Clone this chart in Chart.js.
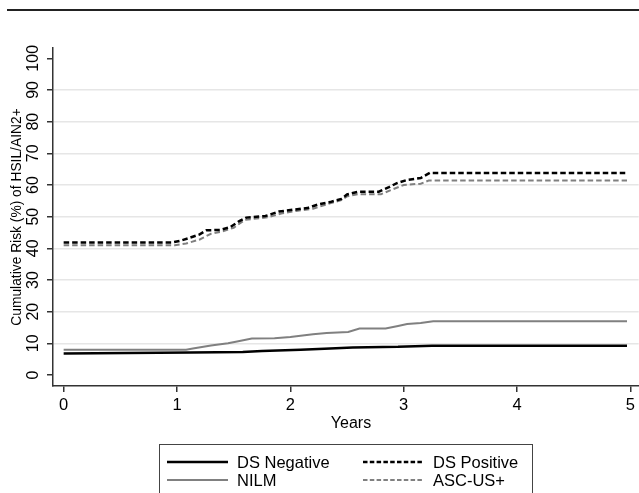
<!DOCTYPE html>
<html>
<head>
<meta charset="utf-8">
<script src="https://cdn.jsdelivr.net/npm/chart.js@4.4.1/dist/chart.umd.min.js"></script>
<style>
  html, body { margin: 0; padding: 0; background: #fff; }
  canvas { display: block; }
</style>
</head>
<body>
<canvas id="chartRisk" width="639" height="493"></canvas>
<script>
// Kaplan-Meier style cumulative risk curves

var xTicks = [0, 1, 2, 3, 4, 5];
var yTicks = [0, 10, 20, 30, 40, 50, 60, 70, 80, 90, 100];

var dsNegYears = [0, 1.12, 1.58, 1.75, 2.09, 2.3, 2.55, 2.95, 3.1, 3.25, 4.97];
var dsNegRisk  = [6.8, 7.1, 7.3, 7.6, 8.0, 8.3, 8.7, 8.9, 9.1, 9.2, 9.2];

var nilmYears = [0, 1.08, 1.14, 1.3, 1.45, 1.53, 1.66, 1.86, 2.0, 2.09, 2.2, 2.32, 2.51, 2.61, 2.84, 2.95, 3.03, 3.15, 3.26, 4.97];
var nilmRisk  = [8.0, 8.0, 8.4, 9.3, 10.0, 10.6, 11.5, 11.6, 12.0, 12.4, 12.9, 13.3, 13.6, 14.7, 14.7, 15.5, 16.1, 16.4, 17.0, 17.0];

var dsPosYears = [0, 0.95, 1.03, 1.11, 1.2, 1.26, 1.38, 1.47, 1.55, 1.61, 1.78, 1.9, 2.03, 2.15, 2.25, 2.35, 2.45, 2.5, 2.6, 2.78, 2.87, 2.94, 3.03, 3.15, 3.23, 4.97];
var dsPosRisk  = [41.8, 41.8, 42.4, 43.3, 44.4, 45.7, 45.8, 46.7, 48.6, 49.7, 50.2, 51.6, 52.2, 52.7, 53.9, 54.6, 55.6, 57.0, 57.9, 57.9, 59.3, 60.6, 61.6, 62.2, 63.8, 63.8];

var ascusYears = [0, 0.98, 1.08, 1.2, 1.3, 1.4, 1.5, 1.6, 1.8, 1.92, 2.05, 2.2, 2.35, 2.45, 2.5, 2.6, 2.8, 2.9, 3.0, 3.15, 3.22, 4.97];
var ascusRisk  = [41.0, 41.0, 41.5, 42.8, 44.6, 45.3, 46.5, 49.0, 49.8, 51.0, 51.8, 52.5, 54.2, 55.2, 56.4, 57.1, 57.1, 58.6, 60.0, 60.4, 61.4, 61.4];

// legend order: two columns, two rows
var legendOrder = [0, 2, 1, 3];

function toPoints(xs, ys) {
    return xs.map(function(x, i) { return { x: x, y: ys[i] }; });
}

var FONT = '"Liberation Sans", Arial, Helvetica, sans-serif';

var extrasPlugin = {
    id: 'extras',
    afterDraw: function(chart) {
        var ctx = chart.ctx;
        var yScale = chart.scales.y;
        ctx.save();

        // rule at the top of the figure
        ctx.strokeStyle = '#222';
        ctx.lineWidth = 2;
        ctx.beginPath();
        ctx.moveTo(7, 10);
        ctx.lineTo(639, 10);
        ctx.stroke();

        ctx.fillStyle = '#000';
        ctx.textAlign = 'center';
        ctx.textBaseline = 'middle';

        // rotated y tick labels
        ctx.font = '16px ' + FONT;
        yScale.ticks.forEach(function(t) {
            var py = yScale.getPixelForValue(t.value);
            ctx.save();
            ctx.translate(34, py);
            ctx.rotate(-Math.PI / 2);
            ctx.fillText(String(t.value), 0, 0);
            ctx.restore();
        });

        // y title
        ctx.font = '13.8px ' + FONT;
        ctx.save();
        ctx.translate(17, 217);
        ctx.rotate(-Math.PI / 2);
        ctx.fillText('Cumulative Risk (%) of HSIL/AIN2+', 0, 0);
        ctx.restore();

        // x title
        ctx.font = '16px ' + FONT;
        ctx.fillText('Years', 351, 424);

        // legend box
        ctx.strokeStyle = '#444';
        ctx.lineWidth = 1;
        ctx.strokeRect(159.5, 444.5, 373, 60);

        var ds = chart.data.datasets;
        var cols = [167, 363];
        var rows = [462, 480];
        ctx.font = '16.5px ' + FONT;
        ctx.textAlign = 'left';
        legendOrder.forEach(function(idx, k) {
            var d = ds[idx];
            var lx = cols[k % 2];
            var ly = rows[Math.floor(k / 2)];
            ctx.strokeStyle = d.borderColor;
            ctx.lineWidth = d.borderWidth;
            ctx.setLineDash(d.borderDash.length ? [4.5, 2.3] : []);
            ctx.beginPath();
            ctx.moveTo(lx, ly);
            ctx.lineTo(lx + 61, ly);
            ctx.stroke();
            ctx.setLineDash([]);
            ctx.fillText(d.label, lx + 70, ly + 1);
        });

        ctx.restore();
    }
};

new Chart(document.getElementById('chartRisk'), {
    type: 'line',
    data: {
        datasets: [
            {
                label: 'DS Negative',
                data: toPoints(dsNegYears, dsNegRisk),
                borderColor: '#000',
                borderWidth: 2.5,
                borderDash: [],
            },
            {
                label: 'NILM',
                data: toPoints(nilmYears, nilmRisk),
                borderColor: '#808080',
                borderWidth: 2,
                borderDash: [],
            },
            {
                label: 'DS Positive',
                data: toPoints(dsPosYears, dsPosRisk),
                borderColor: '#000',
                borderWidth: 2.5,
                borderDash: [5.5, 3],
            },
            {
                label: 'ASC-US+',
                data: toPoints(ascusYears, ascusRisk),
                borderColor: '#808080',
                borderWidth: 2,
                borderDash: [5.5, 3],
            },
        ],
    },
    options: {
        responsive: false,
        animation: false,
        devicePixelRatio: 1,
        layout: { padding: { top: 48, left: 0, right: 0, bottom: 0 } },
        elements: { point: { radius: 0 }, line: { tension: 0 } },
        plugins: { legend: { display: false }, tooltip: { enabled: false } },
        scales: {
            x: {
                type: 'linear',
                min: -0.094,
                max: 5.073,
                afterBuildTicks: function(s) { s.ticks = xTicks.map(function(v) { return { value: v }; }); },
                afterFit: function(s) { s.height = 107; },
                grid: { drawOnChartArea: false, tickLength: 6, color: '#333', lineWidth: 1.5 },
                border: { color: '#333', width: 1.5 },
                ticks: { color: '#000', padding: 4, maxRotation: 0, font: { family: FONT, size: 16.5 } },
            },
            y: {
                type: 'linear',
                min: -3.47,
                max: 103.25,
                afterBuildTicks: function(s) { s.ticks = yTicks.map(function(v) { return { value: v }; }); },
                afterFit: function(s) { s.width = 53; },
                grid: {
                    tickLength: 6,
                    tickColor: '#333',
                    lineWidth: 1.5,
                    color: function(c) {
                        var v = c.tick ? c.tick.value : null;
                        return (v === 0 || v === 100) ? 'rgba(0,0,0,0)' : '#e6e6e6';
                    },
                },
                border: { color: '#333', width: 1.5 },
                ticks: { display: false },
            },
        },
    },
    plugins: [extrasPlugin],
});
</script>
</body>
</html>
